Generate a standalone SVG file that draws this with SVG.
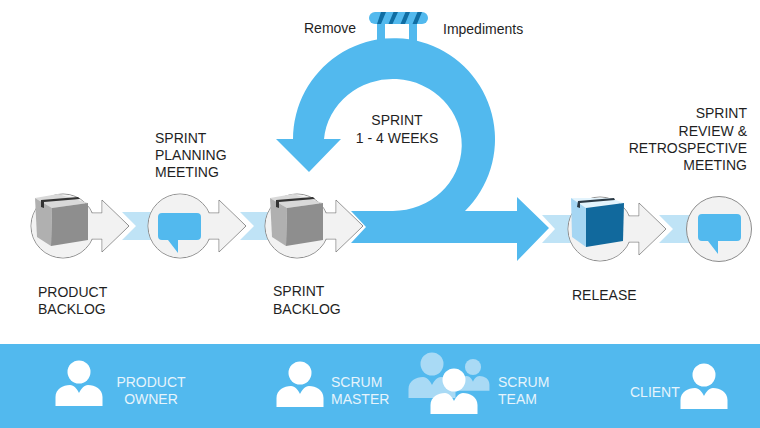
<svg xmlns="http://www.w3.org/2000/svg" xmlns:xlink="http://www.w3.org/1999/xlink" width="760" height="428" viewBox="0 0 760 428">
  <style>
    text { font-family: "Liberation Sans", Arial, sans-serif; font-size: 14px; fill: #1f1f1f; }
    text.w { fill: #e6f4fc; }
    .mid { text-anchor: middle; }
    .end { text-anchor: end; }
    .band { fill: #bfe3f6; }
    .blue { fill: #52b9ee; }
    .disc { fill: #f2f2f2; stroke: #8c8c8c; stroke-width: 1; }
    .disc-fill { fill: #f2f2f2; }
    .person { fill: #ffffff; }
    .person-back { fill: #a9daf5; }
  </style>
  <defs>
    <!-- Round token with a right-pointing arrow, origin at the circle centre -->
    <g id="token">
      <circle class="disc" r="32"/>
      <path class="disc" d="M20,-13H39V-26L66,0L39,26V13H20Z"/>
      <circle class="disc-fill" r="31.5"/>
      <path class="disc-fill" d="M20,-12.5H39.5V-25L65,0L39.5,25V12.5H20Z"/>
    </g>
    <!-- Speech bubble, origin at the circle centre -->
    <path id="bubble" class="blue" d="M-18,-13H17Q21,-13 21,-9V10Q21,14 17,14H-2L-2,27L-12,14H-18Q-22,14 -22,10V-9Q-22,-13 -18,-13Z"/>
    <!-- Grey carton, origin at the top-left corner -->
    <g id="carton">
      <path fill="#d9d9d9" d="M0,0L23,-4L53,5L17,10Z"/>
      <path fill="#b0b0b0" d="M0,0L17,10L16,48L2,39Z"/>
      <path fill="#8e8e8e" d="M17,10L53,5V42L16,48Z"/>
      <path fill="#333333" d="M6,2L43,-1L45,1L9,4V10L6,9Z"/>
    </g>
    <!-- Person silhouette, origin at the head centre -->
    <g id="person">
      <circle cy="0" r="11.5"/>
      <path d="M-23.5,34V25C-23.5,17 -16,13 -9,13C-5,13 -2,17 0,21C2,17 5,13 9,13C16,13 23.5,17 23.5,25V34Z"/>
    </g>
  </defs>

  <rect x="0" y="344" width="760" height="84" class="blue"/>

  <g id="connectors">
    <path class="band" d="M122,212H160V240H122L136,226Z"/>
    <path class="band" d="M240,212H280V240H240L254,226Z"/>
    <path class="band" d="M542,215H580V243H542L555,229Z"/>
    <path class="band" d="M659,215H700V243H659L673,229Z"/>
    <path class="blue" d="M351,211H393A69,66 0 1 0 324,139H341L309,172L276,139H293A101,101 0 1 1 465,211H517V197L549,228L517,261V243H351L366,227Z"/>
  </g>

  <g id="timer-handle">
    <path class="blue" d="M377,22H385V41H377ZM409,22H417V41H409Z"/>
    <rect class="blue" x="369" y="12" width="59" height="12" rx="6"/>
    <path fill="#0f6da3" d="M381,12H386L381,24H377ZM393.500,12H398L392.500,24H388.500ZM405.500,12H410L405,24H400.500ZM417.500,12H422L417,24H412.500Z"/>
  </g>

  <g id="product-backlog">
    <use xlink:href="#token" x="63" y="226"/>
    <use xlink:href="#carton" x="35" y="198"/>
    <text x="38" y="297">PRODUCT</text>
    <text x="38" y="314">BACKLOG</text>
  </g>

  <g id="planning-meeting">
    <use xlink:href="#token" x="180" y="226"/>
    <use xlink:href="#bubble" x="180" y="226"/>
    <text x="155" y="143">SPRINT</text>
    <text x="155" y="160">PLANNING</text>
    <text x="155" y="177">MEETING</text>
  </g>

  <g id="sprint-backlog">
    <use xlink:href="#token" x="297" y="226"/>
    <use xlink:href="#carton" x="270" y="198"/>
    <text x="273" y="296">SPRINT</text>
    <text x="273" y="314">BACKLOG</text>
  </g>

  <g id="sprint-loop">
    <text x="397" y="125" class="mid">SPRINT</text>
    <text x="397" y="143" class="mid">1 - 4 WEEKS</text>
    <text x="304" y="33">Remove</text>
    <text x="443" y="34">Impediments</text>
  </g>

  <g id="release">
    <use xlink:href="#token" x="600" y="229"/>
    <path fill="#e3f4fd" d="M571,198L610,198L624,203L586,208Z"/>
    <path fill="#a5d6f3" d="M571,198L586,208V247L572,237Z"/>
    <path fill="#11699d" d="M586,208L624,203L623,241L586,247Z"/>
    <path fill="#2b3a45" d="M578,201L614,198L615,200L580,203V208L577,207Z"/>
    <text x="572" y="300">RELEASE</text>
  </g>

  <g id="review-meeting">
    <circle class="disc" cx="719" cy="229" r="32.5"/>
    <use xlink:href="#bubble" x="720" y="227"/>
    <text x="747" y="118" class="end">SPRINT</text>
    <text x="747" y="136" class="end">REVIEW &amp;</text>
    <text x="747" y="153" class="end">RETROSPECTIVE</text>
    <text x="747" y="170" class="end">MEETING</text>
  </g>

  <g id="product-owner">
    <use xlink:href="#person" class="person" x="79" y="372"/>
    <text x="151" y="387" class="mid w">PRODUCT</text>
    <text x="151" y="404" class="mid w">OWNER</text>
  </g>

  <g id="scrum-master">
    <use xlink:href="#person" class="person" x="300" y="373"/>
    <text x="331" y="387" class="w">SCRUM</text>
    <text x="331" y="404" class="w">MASTER</text>
  </g>

  <g id="scrum-team">
    <use xlink:href="#person" class="person-back" x="432" y="364"/>
    <use xlink:href="#person" class="person-back" transform="translate(473 367) scale(0.7)"/>
    <use xlink:href="#person" class="person" x="454" y="380"/>
    <text x="498" y="387" class="w">SCRUM</text>
    <text x="498" y="404" class="w">TEAM</text>
  </g>

  <g id="client">
    <use xlink:href="#person" class="person" x="704" y="375"/>
    <text x="630" y="397" class="w">CLIENT</text>
  </g>
</svg>
